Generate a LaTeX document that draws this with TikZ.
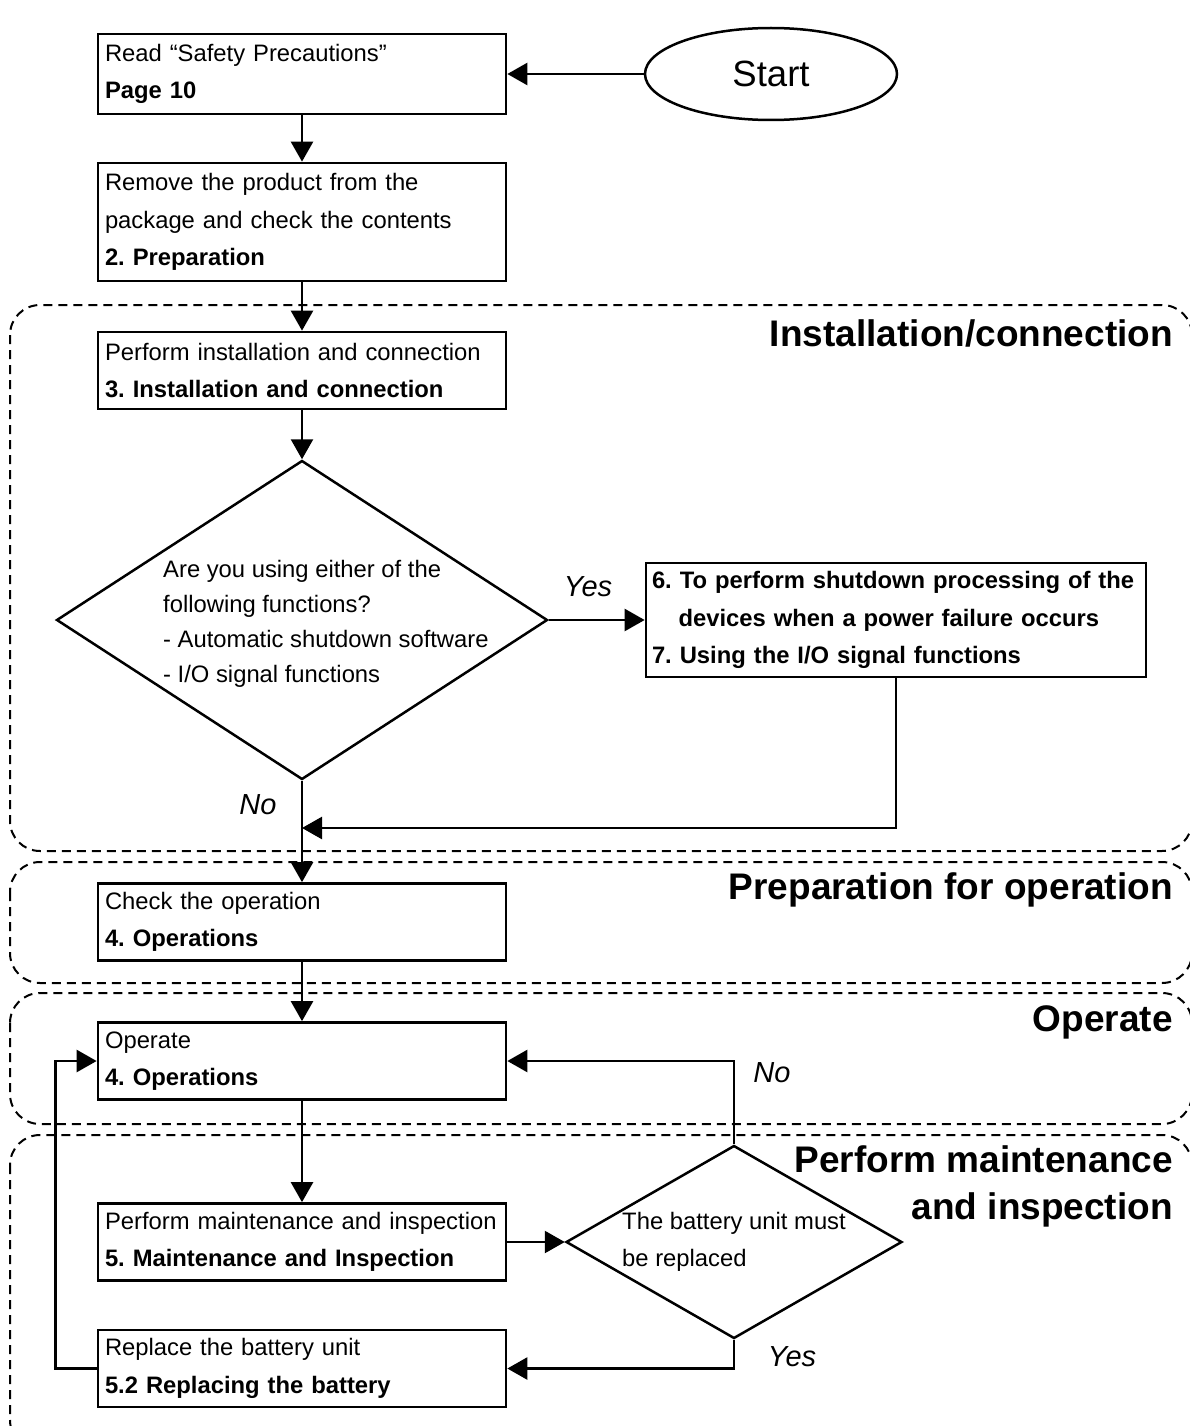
\documentclass[tikz,border=0pt]{standalone}
\usepackage{fontspec}
\setmainfont{Liberation Sans}
\usetikzlibrary{shapes.geometric,arrows.meta}
\frenchspacing

\begin{document}
\begin{tikzpicture}[x=1pt, y=-1pt,
	every node/.style={inner sep=0pt, font=\fontsize{23.8}{37.5}\selectfont},
	box/.style={draw, line width=2.7pt, text width=394pt, inner xsep=7pt, inner ysep=0pt, align=left, minimum height=77pt},
	decision/.style={draw, diamond, line width=2.5pt, inner sep=0pt},
	region/.style={line width=2pt, dash pattern=on 9pt off 6pt, rounded corners=30pt},
	heading/.style={anchor=east, align=right, font=\fontsize{37}{47}\selectfont\bfseries},
	ans/.style={font=\fontsize{29}{29}\selectfont\itshape},
	arr/.style={line width=2.5pt, -{Triangle[length=20pt,width=22pt]}}]
	\useasboundingbox (0,0) rectangle (1189,1426);
	% phases
	\draw[region] (10,305) rectangle (1192,851);
	\draw[region] (10,862) rectangle (1192,983);
	\draw[region] (10,993) rectangle (1192,1124);
	\draw[region] (10,1135) rectangle (1192,1450);
	\node[heading] (hinst) at (1173,333) {Installation/connection};
	\node[heading] (hprep) at (1173,890) {Preparation for operation};
	\node[heading] (hoper) at (1173,1022) {Operate};
	\node[heading] (hmaint) at (1173,1186) {Perform maintenance\\and inspection};
	% steps
	\node[draw, ellipse, line width=2.5pt, minimum width=252pt, minimum height=92pt, font=\fontsize{36.5}{36.5}\selectfont] (start) at (771,74) {Start};
	\node[box, minimum height=80pt] (read) at (302,74) {Read “Safety Precautions”\\\textbf{Page 10}};
	\node[box, minimum height=118pt] (unpack) at (302,222) {Remove the product from the\\package and check the contents\\\textbf{2. Preparation}};
	\node[box] (install) at (302,370.5) {Perform installation and connection\\\textbf{3. Installation and connection}};
	\node[decision, minimum width=491pt, minimum height=319pt] (usefn) at (302,620) {};
	\node[anchor=west, align=left, font=\fontsize{23.8}{35}\selectfont] (usefntxt) at (163,624) {Are you using either of the\\following functions?\\- Automatic shutdown software\\- I/O signal functions};
	\node[box, text width=488pt, inner xsep=6pt, minimum height=114pt, font=\fontsize{23.8}{37.5}\selectfont\bfseries] (shutdown) at (896,620) {6. To perform shutdown processing of the\\\hspace*{26.5pt}devices when a power failure occurs\\7. Using the I/O signal functions};
	\node[box] (check) at (302,922) {Check the operation\\\textbf{4. Operations}};
	\node[box] (operate) at (302,1061) {Operate\\\textbf{4. Operations}};
	\node[box] (maint) at (302,1242) {Perform maintenance and inspection\\\textbf{5. Maintenance and Inspection}};
	\node[decision, aspect=1.74, minimum width=336pt, minimum height=193pt, align=left, font=\fontsize{23.8}{37}\selectfont] (battery) at (734,1242) {The battery unit must\\be replaced};
	\node[box] (replace) at (302,1368.5) {Replace the battery unit\\\textbf{5.2 Replacing the battery}};
	% answers
	\node[ans] (yes1) at (588,587) {Yes};
	\node[ans] (no1) at (258,805) {No};
	\node[ans] (no2) at (772,1073) {No};
	\node[ans] (yes2) at (792,1357) {Yes};
	% flow
	\coordinate (merge) at (302,828);
	\draw[arr] (start.west) -- (read.east);
	\draw[arr] (read.south) -- (unpack.north);
	\draw[arr] (unpack.south) -- (install.north);
	\draw[arr] (install.south) -- (usefn.north);
	\draw[arr] (usefn.east) -- (shutdown.west);
	\draw[arr] (shutdown.south) |- (merge);
	\draw[arr] (usefn.south) -- (check.north);
	\draw[arr] (check.south) -- (operate.north);
	\draw[arr] (operate.south) -- (maint.north);
	\draw[arr] (maint.east) -- (battery.west);
	\draw[arr] (battery.north) |- (operate.east);
	\draw[arr] (battery.south) |- (replace.east);
	\draw[arr] (replace.west) -- ++(-41,0) |- (operate.west);
\end{tikzpicture}
\end{document}
